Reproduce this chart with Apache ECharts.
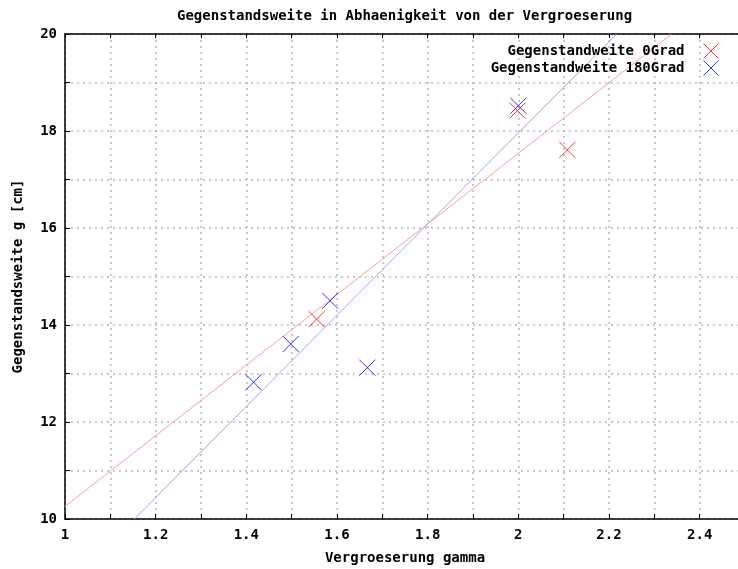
<!DOCTYPE html>
<html>
<head>
<meta charset="utf-8">
<script src="https://cdn.jsdelivr.net/npm/echarts@6/dist/echarts.min.js"></script>
<style>
  html, body { margin: 0; padding: 0; background: #fff; }
  #chart { width: 738px; height: 569px; }
</style>
</head>
<body>
<div id="chart"></div>
<script>
// messwerte (gamma, g in cm)
var gamma0 = [1.555, 1.998, 2.108];
var g0 = [14.12, 18.42, 17.61];
var gamma180 = [1.416, 1.498, 1.585, 1.667, 2.0];
var g180 = [12.82, 13.61, 14.5, 13.12, 18.52];

// ausgleichsgeraden, endpunkte
var fit0X = [1.0, 2.338];
var fit0Y = [10.26, 20.0];
var fit180X = [1.153, 2.217];
var fit180Y = [10.0, 20.0];

var names = ['Gegenstandweite 0Grad', 'Gegenstandweite 180Grad'];

var FONT = 'DejaVu Sans Mono';
var cross = 'path://M0,0L10,10M10,0L0,10';

function pairs(xs, ys) {
	var out = [];
	for (var i = 0; i < xs.length; i++) {
		out.push([xs[i], ys[i]]);
	}
	return out;
}

var txt = { fontFamily: FONT, fontSize: 14, fontWeight: 'bold', color: '#000' };
var gridLine = { show: true, lineStyle: { color: '#b8b8b8', type: [2, 4], width: 1.5 } };

var myChart = echarts.init(document.getElementById('chart'));
var option = {
	animation: false,
	backgroundColor: '#fff',
	title: {
		text: 'Gegenstandsweite in Abhaenigkeit von der Vergroeserung',
		left: 172,
		top: 4,
		textStyle: txt
	},
	legend: {
		data: names,
		orient: 'vertical',
		align: 'right',
		right: 14,
		top: 38,
		itemWidth: 43,
		itemHeight: 15,
		itemGap: 1,
		textStyle: txt,
		itemStyle: { borderWidth: 1 }
	},
	grid: { left: 65, top: 34, width: 680, height: 485, outerBoundsMode: 'none', containLabel: false },
	xAxis: [{
		type: 'value',
		min: 1,
		max: 2.5,
		interval: 0.1,
		name: 'Vergroeserung gamma',
		nameLocation: 'middle',
		nameGap: 32,
		nameTextStyle: txt,
		axisLine: { lineStyle: { color: '#000', width: 1.5 } },
		axisTick: { inside: true, length: 5, lineStyle: { color: '#000' } },
		axisLabel: Object.assign({
			margin: 9,
			formatter: function (v) {
				var t = Math.round(v * 10);
				return t % 2 === 0 ? String(t / 10) : '';
			}
		}, txt),
		splitLine: gridLine
	}, {
		type: 'value',
		position: 'top',
		min: 1,
		max: 2.5,
		interval: 0.1,
		axisLine: { lineStyle: { color: '#000', width: 1.5 } },
		axisTick: { inside: true, length: 4, lineStyle: { color: '#000' } },
		axisLabel: { show: false },
		splitLine: { show: false }
	}],
	yAxis: {
		type: 'value',
		min: 10,
		max: 20,
		interval: 1,
		name: 'Gegenstandsweite g [cm]',
		nameLocation: 'middle',
		nameGap: 40,
		nameTextStyle: txt,
		axisLine: { show: true, lineStyle: { color: '#000', width: 1.5 } },
		axisTick: { show: true, inside: true, length: 5, lineStyle: { color: '#000' } },
		axisLabel: Object.assign({
			margin: 8,
			formatter: function (v) {
				var t = Math.round(v);
				return t % 2 === 0 ? String(t) : '';
			}
		}, txt),
		splitLine: gridLine
	},
	series: [{
		name: 'fit0',
		type: 'line',
		data: pairs(fit0X, fit0Y),
		showSymbol: false,
		silent: true,
		lineStyle: { color: '#f4a0a0', width: 1 },
		z: 1
	}, {
		name: 'fit180',
		type: 'line',
		data: pairs(fit180X, fit180Y),
		showSymbol: false,
		silent: true,
		lineStyle: { color: '#a4a4f4', width: 1 },
		z: 1
	}, {
		name: names[0],
		type: 'scatter',
		data: pairs(gamma0, g0),
		symbol: cross,
		symbolSize: 16,
		itemStyle: { color: 'rgba(255,0,0,0)', borderColor: '#ff0000', borderWidth: 1 },
		z: 3
	}, {
		name: names[1],
		type: 'scatter',
		data: pairs(gamma180, g180),
		symbol: cross,
		symbolSize: 16,
		itemStyle: { color: 'rgba(0,0,255,0)', borderColor: '#0000ff', borderWidth: 1 },
		z: 4
	}]
};
myChart.setOption(option);
</script>
</body>
</html>
